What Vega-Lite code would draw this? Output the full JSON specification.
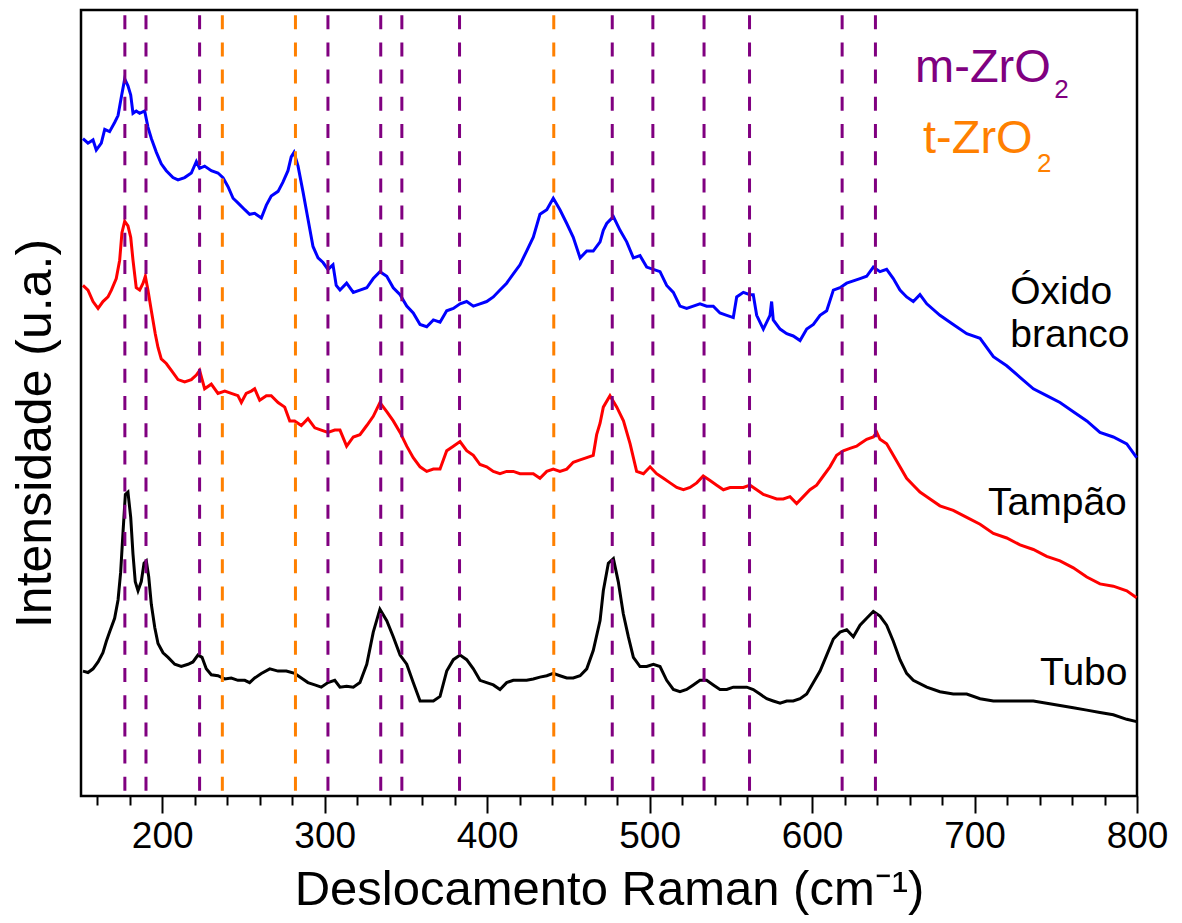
{
  "$schema": "https://vega.github.io/schema/vega-lite/v6.json",
  "width": 1056,
  "height": 786,
  "autosize": {"type": "none"},
  "padding": {"left": 81, "top": 10, "right": 45, "bottom": 127},
  "background": "white",
  "config": {"view": {"stroke": "black", "strokeWidth": 2.5}, "font": "Liberation Sans"},
  "resolve": {"axis": {"x": "independent"}},
  "datasets": {
    "blue": [[151.2,1432],[154.3,1422],[157.4,1429],[159.4,1407],[162.5,1422],[164.6,1452],[167.6,1447],[170.7,1467],[172.8,1482],[174.8,1522],[176.9,1562],[178.9,1547],[180.6,1527],[182,1487],[184,1492],[186.1,1487],[189.2,1492],[191.2,1457],[193.3,1432],[196.4,1402],[199.4,1377],[202.5,1362],[206.6,1347],[209.7,1342],[213.8,1347],[217.9,1357],[221,1382],[223,1367],[226.1,1372],[230.2,1362],[234.3,1357],[237.4,1347],[240.5,1327],[243.6,1302],[246.6,1292],[250.8,1277],[253.8,1267],[256.9,1269],[261,1259],[264.1,1287],[267.1,1307],[271.3,1317],[274.3,1337],[277.4,1362],[279.4,1392],[281.1,1402],[283.6,1372],[286.6,1317],[289.7,1257],[292.8,1197],[295.9,1172],[299,1162],[302,1147],[305.1,1157],[307.1,1112],[309.4,1102],[313.5,1117],[317.6,1097],[321.7,1102],[325.9,1107],[329.9,1127],[334,1142],[338.2,1132],[342.2,1107],[346.4,1092],[350.5,1067],[354.5,1052],[358.7,1027],[362.8,1022],[366.9,1037],[371,1032],[375.1,1057],[379.2,1062],[383.3,1072],[387.4,1077],[391.5,1067],[395.6,1072],[399.7,1077],[403.8,1087],[407.9,1102],[412,1117],[416.1,1137],[420.2,1157],[424.3,1187],[428.4,1217],[432.5,1267],[436.7,1277],[440.7,1302],[444.8,1277],[449,1247],[453,1217],[457.2,1172],[461.3,1187],[465.3,1187],[469.5,1207],[471.5,1232],[473.6,1247],[477.7,1262],[481.8,1232],[485.9,1207],[490,1172],[494.1,1177],[498.2,1152],[502.3,1147],[506.4,1142],[510.5,1112],[514.6,1097],[518.7,1067],[522.8,1062],[526.9,1067],[531,1072],[535.1,1067],[539.2,1067],[543.3,1052],[547.5,1047],[551.5,1042],[553.6,1087],[557.7,1097],[561.8,1092],[563.8,1092],[565.9,1047],[570,1017],[574.1,1047],[575.1,1077],[576.1,1037],[580.3,1017],[584.4,1007],[588.4,1002],[592.6,992],[596.7,1017],[600.8,1027],[604.9,1047],[609,1057],[613.1,1102],[617.2,1107],[621.3,1117],[625.4,1122],[629.5,1127],[633.6,1132],[637.7,1152],[641.8,1142],[645.9,1147],[650,1127],[654.1,1102],[658.2,1087],[662.3,1077],[666.4,1092],[670.6,1072],[678.7,1047],[686.9,1027],[695.2,1007],[703.4,997],[711.6,957],[719.8,937],[728,912],[736.2,887],[744.4,872],[752.6,857],[760.8,837],[769.1,817],[777.2,792],[785.4,782],[793.7,767],[799.8,737]],
    "red": [[151.2,1112],[154.3,1102],[157.4,1077],[160.5,1062],[163.5,1077],[166.6,1087],[168.7,1102],[171.7,1127],[173.8,1167],[175.2,1227],[176.9,1252],[178.9,1242],[180.6,1217],[182,1167],[184,1107],[186.1,1102],[188.2,1117],[189.6,1132],[191.2,1102],[193.3,1057],[195.7,1007],[197.4,977],[199.4,952],[202.5,942],[205.6,927],[209.7,907],[213.8,902],[217.9,907],[221,917],[223,927],[226.1,887],[230.2,897],[234.3,877],[238.5,882],[242.5,877],[246.6,872],[248.7,857],[251.7,877],[254.8,882],[256.9,887],[260,862],[264.1,872],[267.1,872],[271.3,857],[275.4,847],[278.5,817],[281.5,817],[285.6,807],[289.7,822],[293.9,802],[297.9,797],[302,792],[306.2,797],[309.4,797],[313.5,762],[317.6,782],[321.7,787],[325.9,807],[329.9,827],[334,857],[338.2,837],[342.2,817],[346.4,792],[350.5,762],[354.5,737],[358.7,717],[362.8,707],[366.9,712],[371,712],[375.1,752],[379.2,762],[383.3,772],[387.4,752],[391.5,742],[395.6,722],[399.7,717],[403.8,707],[407.9,702],[412,707],[416.1,707],[420.2,702],[424.3,702],[428.4,702],[432.5,692],[436.7,707],[440.7,712],[444.8,707],[449,712],[453,727],[457.2,732],[461.3,737],[465.3,742],[467.4,787],[469.5,812],[471.5,847],[475.6,872],[479.8,847],[483.9,817],[488,767],[492,707],[496.2,702],[500.3,717],[504.3,702],[508.5,692],[512.6,682],[516.7,672],[520.8,667],[524.9,672],[529,682],[533,697],[537.2,687],[541.3,677],[545.4,667],[549.5,672],[553.6,672],[557.7,672],[561.8,677],[565.9,667],[570,657],[574.1,652],[578.2,647],[582.3,647],[586.4,652],[590.5,637],[594.6,652],[598.7,667],[602.8,677],[606.9,697],[611,717],[615.1,742],[619.2,752],[623.3,757],[627.4,762],[629.5,767],[633.6,777],[637.7,782],[639.8,792],[641.8,777],[645.9,767],[650,742],[654.1,717],[658.2,692],[662.3,677],[666.4,662],[670.6,652],[678.7,632],[686.9,622],[695.2,607],[703.4,592],[711.6,572],[719.8,562],[728,547],[736.2,537],[744.4,522],[752.6,512],[760.8,497],[769.1,477],[777.2,462],[785.4,457],[793.7,447],[799.8,432]],
    "black": [[151.2,272],[154.3,269],[157.4,277],[160.5,292],[163.5,312],[165.6,337],[167.6,357],[170.7,387],[172.8,427],[174.4,487],[175.9,577],[177.3,657],[178.9,662],[180.6,607],[182,527],[183.4,467],[185.1,447],[187.1,467],[188.8,507],[190.2,512],[191.7,477],[193.3,417],[195.4,367],[197.4,332],[200.5,312],[203.6,302],[207.7,287],[211.7,282],[215.9,287],[218.9,292],[222,307],[224.5,302],[227.1,277],[230.2,264],[234.3,262],[238.5,255],[242.5,257],[246.6,252],[250.8,252],[253.8,247],[256.9,257],[261,267],[266.2,277],[271.3,272],[276.4,272],[281.5,267],[285.6,257],[289.7,247],[293.9,242],[297.9,237],[302,247],[306.2,252],[309.4,237],[313.5,239],[317.6,237],[321.7,247],[325.9,287],[329.9,357],[334,407],[338.2,382],[342.2,347],[346.4,307],[350.5,287],[354.5,247],[358.7,207],[362.8,207],[366.9,207],[371,217],[375.1,272],[379.2,297],[383.3,307],[387.4,297],[391.5,277],[395.6,252],[399.7,247],[403.8,242],[407.9,232],[412,247],[416.1,252],[420.2,252],[424.3,252],[428.4,255],[432.5,259],[436.7,262],[440.7,267],[444.8,262],[449,257],[453,257],[457.2,262],[461.3,277],[465.3,317],[469.5,382],[471.5,447],[474.6,507],[477.7,517],[480.7,467],[483.8,397],[486.9,347],[490,302],[494.1,282],[498.2,282],[502.3,287],[506.4,282],[510.5,252],[514.6,232],[518.7,227],[522.8,232],[526.9,242],[531,252],[535.1,252],[539.2,242],[543.3,232],[547.5,232],[551.5,237],[555.6,237],[559.8,237],[563.8,232],[567.9,222],[572.1,212],[576.1,207],[580.3,202],[584.4,207],[588.4,207],[592.6,212],[596.7,222],[600.8,247],[604.9,272],[609,307],[613.1,342],[617.2,357],[621.3,362],[625.4,347],[629.5,372],[633.6,387],[637.7,402],[641.8,392],[645.9,372],[650,337],[654.1,297],[658.2,267],[662.3,252],[670.6,237],[678.7,227],[686.9,222],[695.2,222],[703.4,212],[711.6,207],[719.8,207],[728,207],[736.2,207],[744.4,202],[752.6,197],[760.8,192],[769.1,187],[777.2,182],[785.4,177],[793.7,167],[799.8,162]],
    "peaks": [
      {"position": 177, "phase": "m-ZrO2"}, {"position": 190, "phase": "m-ZrO2"}, {"position": 223, "phase": "m-ZrO2"},
      {"position": 237, "phase": "t-ZrO2"}, {"position": 282, "phase": "t-ZrO2"}, {"position": 302, "phase": "m-ZrO2"},
      {"position": 334.5, "phase": "m-ZrO2"}, {"position": 347.5, "phase": "m-ZrO2"}, {"position": 383, "phase": "m-ZrO2"},
      {"position": 441, "phase": "t-ZrO2"}, {"position": 477, "phase": "m-ZrO2"}, {"position": 502, "phase": "m-ZrO2"},
      {"position": 533.5, "phase": "m-ZrO2"}, {"position": 561.5, "phase": "m-ZrO2"}, {"position": 618.5, "phase": "m-ZrO2"},
      {"position": 639, "phase": "m-ZrO2"}
    ],
    "sampleLabels": [
      {"text": "Óxido", "shift": 722, "intensity": 1072},
      {"text": "branco", "shift": 722, "intensity": 979},
      {"text": "Tampão", "shift": 708.3, "intensity": 612},
      {"text": "Tubo", "shift": 740.3, "intensity": 242}
    ],
    "phaseLabels": [
      {"text": "m-ZrO", "phase": "m-ZrO2", "part": "main", "shift": 663.4, "intensity": 1555},
      {"text": "2", "phase": "m-ZrO2", "part": "sub", "shift": 749, "intensity": 1521},
      {"text": "t-ZrO", "phase": "t-ZrO2", "part": "main", "shift": 668.3, "intensity": 1401},
      {"text": "2", "phase": "t-ZrO2", "part": "sub", "shift": 738.5, "intensity": 1360}
    ]
  },
  "layer": [
    {
      "data": {"name": "blue"},
      "transform": [{"calculate": "datum[0]", "as": "shift"}, {"calculate": "datum[1]", "as": "intensity"}, {"calculate": "'Óxido branco'", "as": "sample"}],
      "mark": {"type": "line", "strokeWidth": 3},
      "encoding": {
        "x": {"field": "shift", "type": "quantitative", "scale": {"domain": [150, 800], "nice": false, "zero": false},
          "axis": {
            "orient": "bottom",
            "values": [200, 300, 400, 500, 600, 700, 800],
            "tickSize": 17, "tickWidth": 2, "tickColor": "black", "domain": false, "grid": false,
            "labelFontSize": 37, "labelColor": "black", "labelPadding": 5, "labelFont": "Liberation Sans",
            "labelOverlap": false, "labelFlush": false,
            "title": "Deslocamento Raman (cm⁻¹)", "titleFontSize": 49, "titleFontWeight": "normal", "titleColor": "black",
            "titleFont": "Liberation Sans", "titleBaseline": "alphabetic", "titleY": 108, "titleX": 528
          }},
        "y": {"field": "intensity", "type": "quantitative", "scale": {"domain": [0, 1712], "nice": false, "zero": false},
          "axis": {"ticks": false, "labels": false, "domain": false, "grid": false,
            "title": "Intensidade (u.a.)", "titleFontSize": 50, "titleFontWeight": "normal", "titleColor": "black",
            "titleFont": "Liberation Sans", "titleX": -31, "titleY": 423, "titleBaseline": "alphabetic", "titleAlign": "center", "titleAngle": 270}},
        "color": {"field": "sample", "type": "nominal", "legend": null,
          "scale": {"domain": ["Óxido branco", "Tampão", "Tubo", "m-ZrO2", "t-ZrO2"], "range": ["#0000ff", "#ff0000", "#000000", "#800080", "#ff8000"]}}
      }
    },
    {
      "data": {"name": "red"},
      "transform": [{"calculate": "datum[0]", "as": "shift"}, {"calculate": "datum[1]", "as": "intensity"}, {"calculate": "'Tampão'", "as": "sample"}],
      "mark": {"type": "line", "strokeWidth": 3},
      "encoding": {
        "x": {"field": "shift", "type": "quantitative",
          "axis": {
            "orient": "bottom",
            "values": [160,180,220,240,260,280,320,340,360,380,420,440,460,480,520,540,560,580,620,640,660,680,720,740,760,780],
            "tickSize": 9, "tickWidth": 2, "tickColor": "black", "domain": false, "grid": false,
            "labels": false, "title": null
          }},
        "y": {"field": "intensity", "type": "quantitative"},
        "color": {"field": "sample", "type": "nominal", "legend": null}
      }
    },
    {
      "data": {"name": "black"},
      "transform": [{"calculate": "datum[0]", "as": "shift"}, {"calculate": "datum[1]", "as": "intensity"}, {"calculate": "'Tubo'", "as": "sample"}],
      "mark": {"type": "line", "strokeWidth": 3},
      "encoding": {
        "x": {"field": "shift", "type": "quantitative", "axis": null},
        "y": {"field": "intensity", "type": "quantitative"},
        "color": {"field": "sample", "type": "nominal", "legend": null}
      }
    },
    {
      "data": {"name": "peaks"},
      "mark": {"type": "rule", "strokeWidth": 3, "strokeDash": [14, 13.2], "strokeDashOffset": 22},
      "encoding": {
        "x": {"field": "position", "type": "quantitative", "axis": null},
        "color": {"field": "phase", "type": "nominal", "legend": null}
      }
    },
    {
      "data": {"name": "sampleLabels"},
      "mark": {"type": "text", "align": "left", "baseline": "alphabetic", "fontSize": 39, "font": "Liberation Sans", "color": "black"},
      "encoding": {
        "x": {"field": "shift", "type": "quantitative", "axis": null},
        "y": {"field": "intensity", "type": "quantitative"},
        "text": {"field": "text"}
      }
    },
    {
      "data": {"name": "phaseLabels"},
      "transform": [{"filter": "datum.part === 'main'"}],
      "mark": {"type": "text", "align": "left", "baseline": "alphabetic", "fontSize": 47, "font": "Liberation Sans"},
      "encoding": {
        "x": {"field": "shift", "type": "quantitative", "axis": null},
        "y": {"field": "intensity", "type": "quantitative"},
        "text": {"field": "text"},
        "color": {"field": "phase", "type": "nominal", "legend": null}
      }
    },
    {
      "data": {"name": "phaseLabels"},
      "transform": [{"filter": "datum.part === 'sub'"}],
      "mark": {"type": "text", "align": "left", "baseline": "alphabetic", "fontSize": 26, "font": "Liberation Sans"},
      "encoding": {
        "x": {"field": "shift", "type": "quantitative", "axis": null},
        "y": {"field": "intensity", "type": "quantitative"},
        "text": {"field": "text"},
        "color": {"field": "phase", "type": "nominal", "legend": null}
      }
    }
  ]
}
